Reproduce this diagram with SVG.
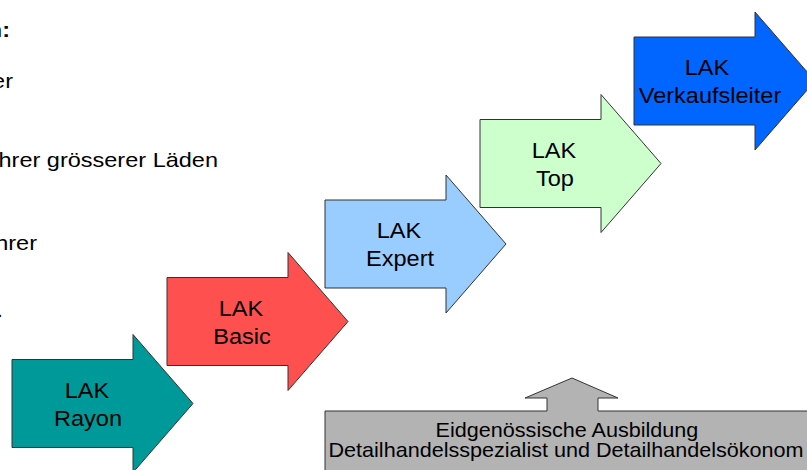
<svg xmlns="http://www.w3.org/2000/svg" width="807" height="470" viewBox="0 0 807 470">
<style>
text{font-family:"Liberation Sans",Arial,sans-serif;fill:#000}
.side{font-size:21px;text-anchor:end}
.lbl{font-size:22px;text-anchor:middle}
.box{font-size:20px;text-anchor:middle}
.arr{stroke:#333;stroke-width:1}
</style>
<defs>
<path id="ra" d="M0,-44 L121,-44 L121,-69 L181,0 L121,69 L121,44 L0,44 Z"/>
</defs>
<rect width="807" height="470" fill="#fff"/>
<g id="sidetext">
<text class="side" transform="translate(10,37) scale(1.12,1)" font-weight="bold">n:</text>
<text class="side" transform="translate(13,88) scale(1.12,1)">er</text>
<text class="side" transform="translate(218,167) scale(1.12,1)">hrer grösserer Läden</text>
<text class="side" transform="translate(37,250) scale(1.12,1)">hrer</text>
<text class="side" transform="translate(3,317) scale(1.12,1)">.</text>
</g>
<g id="connectors"></g>
<g id="rayon">
<use href="#ra" class="arr" fill="#009999" transform="translate(12,403.5)"/>
<text class="lbl" transform="translate(87,398) scale(1.07,1)">LAK</text>
<text class="lbl" transform="translate(88,426) scale(1.07,1)">Rayon</text>
</g>
<g id="basic">
<use href="#ra" class="arr" fill="#FF5050" transform="translate(167,321.5)"/>
<text class="lbl" transform="translate(241,316) scale(1.07,1)">LAK</text>
<text class="lbl" transform="translate(242,344) scale(1.07,1)">Basic</text>
</g>
<g id="expert">
<use href="#ra" class="arr" fill="#99CCFF" transform="translate(325,244)"/>
<text class="lbl" transform="translate(399,238) scale(1.07,1)">LAK</text>
<text class="lbl" transform="translate(400,266) scale(1.07,1)">Expert</text>
</g>
<g id="top">
<use href="#ra" class="arr" fill="#CCFFCC" transform="translate(480,163.5)"/>
<text class="lbl" transform="translate(554,158) scale(1.07,1)">LAK</text>
<text class="lbl" transform="translate(555,186) scale(1.07,1)">Top</text>
</g>
<g id="verkaufsleiter">
<use href="#ra" class="arr" fill="#0066FF" transform="translate(634,81)"/>
<text class="lbl" transform="translate(707,75) scale(1.07,1)">LAK</text>
<text class="lbl" transform="translate(710,103) scale(1.07,1)">Verkaufsleiter</text>
</g>
<g id="ausbildung">
<path class="arr" fill="#B3B3B3" d="M325,475 L325,411 L547,411 L547,398 L525,398 L572,378 L618,398 L598,398 L598,411 L812,411 L812,475 Z"/>
<text class="box" transform="translate(567,437) scale(1.08,1)">Eidgenössische Ausbildung</text>
<text class="box" transform="translate(566,457) scale(1.08,1)">Detailhandelsspezialist und Detailhandelsökonom</text>
</g>
</svg>
